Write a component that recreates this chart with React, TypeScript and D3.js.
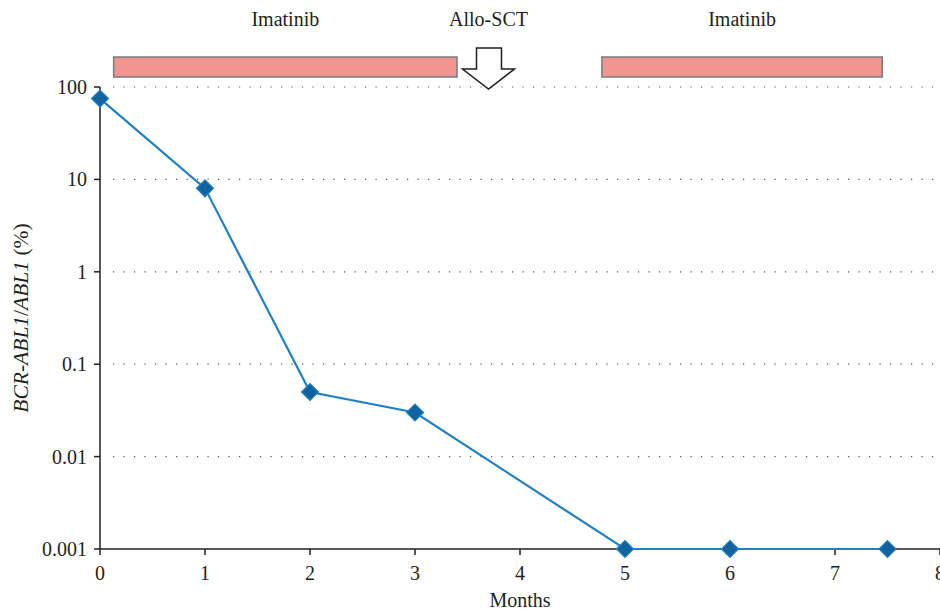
import React from "react";
import * as d3 from "d3";

const months = [0, 1, 2, 3, 5, 6, 7.5];
const ratio = [75, 8, 0.05, 0.03, 0.001, 0.001, 0.001];
const xTicks = [0, 1, 2, 3, 4, 5, 6, 7, 8];
const yTicks = [0.001, 0.01, 0.1, 1, 10, 100];
const yTickLabels = ["0.001", "0.01", "0.1", "1", "10", "100"];
const treatments = [
  { label: "Imatinib", start: 0.13, end: 3.4 },
  { label: "Imatinib", start: 4.78, end: 7.45 },
];
const sctEvent = { label: "Allo-SCT", at: 3.7 };

const W = 940;
const H = 612;
const FONT = "'Liberation Serif', 'DejaVu Serif', serif";
const FS = 20;

export default function App() {
  const x = d3.scaleLinear().domain([0, 8]).range([100, 940]);
  const y = d3.scaleLog().domain([0.001, 100]).range([549, 87]);
  const line = d3
    .line<number>()
    .x((_, i) => x(months[i]))
    .y((d) => y(d));

  const ax = x(sctEvent.at);
  const arrowPath = [
    [ax - 12, 48],
    [ax + 13, 48],
    [ax + 13, 69],
    [ax + 26, 69],
    [ax, 89],
    [ax - 26, 69],
    [ax - 12, 69],
  ];

  return (
    <svg
      width={W}
      height={H}
      style={{ position: "absolute", left: 0, top: 0, background: "#fff" }}
      fontFamily={FONT}
    >
      {yTicks
        .filter((t) => t > 0.001)
        .map((t) => (
          <line
            key={"g" + t}
            x1={113}
            x2={940}
            y1={y(t)}
            y2={y(t)}
            stroke="#555"
            strokeWidth={1.2}
            strokeDasharray="1.2 9.3"
          />
        ))}

      {treatments.map((tr, i) => (
        <g key={"t" + i}>
          <rect
            x={x(tr.start)}
            y={57}
            width={x(tr.end) - x(tr.start)}
            height={20}
            fill="#f09590"
            stroke="#7a7a7a"
            strokeWidth={1.5}
          />
          <text
            x={(x(tr.start) + x(tr.end)) / 2}
            y={26}
            textAnchor="middle"
            fontSize={FS}
            fill="#231f20"
          >
            {tr.label}
          </text>
        </g>
      ))}

      <path
        d={"M" + arrowPath.map((p) => p.join(",")).join("L") + "Z"}
        fill="#fff"
        stroke="#231f20"
        strokeWidth={1.5}
      />
      <text x={ax} y={26} textAnchor="middle" fontSize={FS} fill="#231f20">
        {sctEvent.label}
      </text>

      <line x1={100} x2={100} y1={87} y2={549} stroke="#231f20" strokeWidth={1.5} />
      <line x1={100} x2={940} y1={549} y2={549} stroke="#231f20" strokeWidth={1.5} />
      {yTicks.map((t, i) => (
        <g key={"y" + t}>
          <line x1={94} x2={100} y1={y(t)} y2={y(t)} stroke="#231f20" strokeWidth={1.5} />
          <text
            x={87}
            y={y(t)}
            dy="0.35em"
            textAnchor="end"
            fontSize={FS}
            fill="#231f20"
          >
            {yTickLabels[i]}
          </text>
        </g>
      ))}
      {xTicks.map((t) => (
        <g key={"x" + t}>
          <line x1={x(t)} x2={x(t)} y1={549} y2={555} stroke="#231f20" strokeWidth={1.5} />
          <text x={x(t)} y={580} textAnchor="middle" fontSize={FS} fill="#231f20">
            {t}
          </text>
        </g>
      ))}
      <text x={520} y={607} textAnchor="middle" fontSize={FS} fill="#231f20">
        Months
      </text>
      <text
        transform={`translate(28,318) rotate(-90)`}
        textAnchor="middle"
        fontSize={21.5}
        fill="#231f20"
      >
        <tspan fontStyle="italic">BCR-ABL1</tspan>
        <tspan>/</tspan>
        <tspan fontStyle="italic">ABL1</tspan>
        <tspan> (%)</tspan>
      </text>

      <path d={line(ratio) || ""} fill="none" stroke="#1f80c3" strokeWidth={2.2} />
      {ratio.map((v, i) => (
        <rect
          key={"m" + i}
          x={x(months[i]) - 6}
          y={y(v) - 6}
          width={12}
          height={12}
          transform={`rotate(45 ${x(months[i])} ${y(v)})`}
          fill="#10639c"
          stroke="#1f80c3"
          strokeWidth={1.2}
        />
      ))}
    </svg>
  );
}
